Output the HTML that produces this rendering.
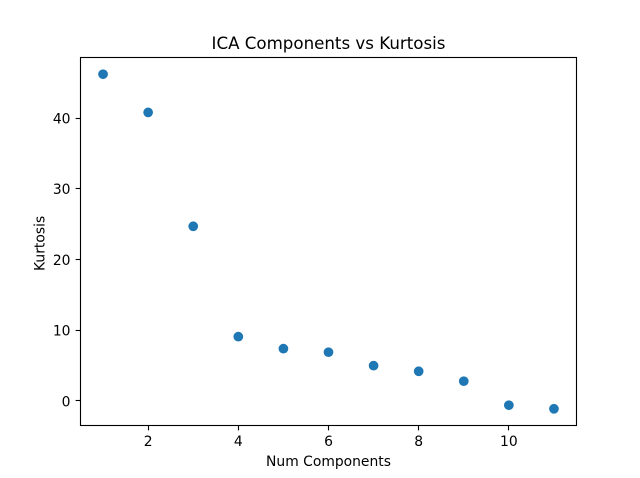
<!DOCTYPE html>
<html>
<head>
<meta charset="utf-8">
<title>ICA Components vs Kurtosis</title>
<style>
html,body{margin:0;padding:0;background:#fff;width:640px;height:478px;overflow:hidden}
svg{display:block}
text{font-family:"DejaVu Sans","Liberation Sans",sans-serif;fill:#000}
</style>
</head>
<body>
<svg id="chart" xmlns="http://www.w3.org/2000/svg" width="640" height="478" viewBox="0 0 640 478">
  <rect x="0" y="0" width="640" height="478" fill="#fff"/>
  <text x="328.5" y="49" font-size="16.67" text-anchor="middle">ICA Components vs Kurtosis</text>
  <text x="328.5" y="466" font-size="13.89" text-anchor="middle">Num Components</text>
  <text x="0" y="0" font-size="13.89" text-anchor="middle" transform="translate(44.5 243.4) rotate(-90)">Kurtosis</text>
  <g id="ticks"></g>
  <g id="points"></g>
  <rect x="80.5" y="57.5" width="496" height="368" fill="none" stroke="#000" stroke-width="1.11"/>
</svg>
<script>
const components = [1, 2, 3, 4, 5, 6, 7, 8, 9, 10, 11];
const kurtosis = [46.2, 40.8, 24.7, 9.1, 7.4, 6.9, 5.0, 4.2, 2.8, -0.6, -1.1];
const xTickValues = [2, 4, 6, 8, 10];
const yTickValues = [0, 10, 20, 30, 40];

const plot = { left: 80.5, right: 576.5, top: 57.5, bottom: 425.5 };
const NS = 'http://www.w3.org/2000/svg';

function domain(values) {
  const lo = Math.min(...values);
  const hi = Math.max(...values);
  const pad = (hi - lo) * 0.05;
  return [lo - pad, hi + pad];
}
const xDomain = domain(components);
const yDomain = domain(kurtosis);

function xScale(v) {
  return plot.left + (v - xDomain[0]) / (xDomain[1] - xDomain[0]) * (plot.right - plot.left);
}
function yScale(v) {
  return plot.bottom - (v - yDomain[0]) / (yDomain[1] - yDomain[0]) * (plot.bottom - plot.top);
}
function snap(p) {
  return Math.floor(p) + 0.5;
}
function make(tag, attrs) {
  const el = document.createElementNS(NS, tag);
  for (const key in attrs) el.setAttribute(key, attrs[key]);
  return el;
}

const ticks = document.getElementById('ticks');
xTickValues.forEach(function (v) {
  const x = xScale(v);
  const mark = make('line', { x1: snap(x), x2: snap(x), y1: plot.bottom, y2: plot.bottom + 4.86, stroke: '#000', 'stroke-width': 1.11 });
  
  
  ticks.appendChild(mark);
  const label = make('text', { x: x, y: 446, 'font-size': 13.89, 'text-anchor': 'middle' });
  
  
  label.textContent = v;
  ticks.appendChild(label);
});
yTickValues.forEach(function (v) {
  const y = yScale(v);
  const mark = make('line', { x1: plot.left - 4.86, x2: plot.left, y1: snap(y), y2: snap(y), stroke: '#000', 'stroke-width': 1.11 });
  
  
  ticks.appendChild(mark);
  const label = make('text', { x: 70.5, y: y + 5.3, 'font-size': 13.89, 'text-anchor': 'end' });
  
  
  label.textContent = v;
  ticks.appendChild(label);
});

const points = document.getElementById('points');
components.forEach(function (c, i) {
  const dot = make('circle', { cx: xScale(c), cy: yScale(kurtosis[i]), r: 4.17, fill: '#1f77b4', stroke: '#1f77b4', 'stroke-width': 1.39 });
  
  
  points.appendChild(dot);
});
</script>
</body>
</html>
